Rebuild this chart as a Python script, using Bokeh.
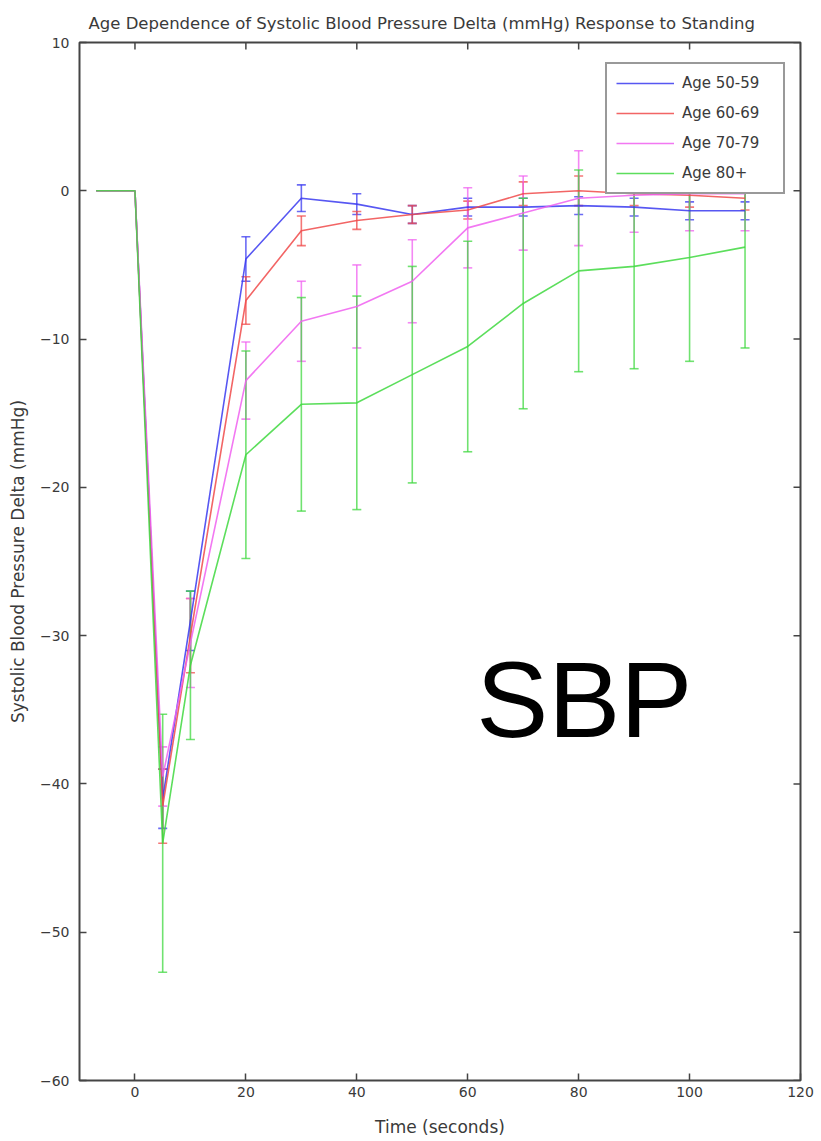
import numpy as np
from bokeh.plotting import figure
from bokeh.models import (ColumnDataSource, Whisker, TeeHead, Label,
                          Legend, LegendItem, FixedTicker, Range1d)
from bokeh.embed import file_html
from bokeh.resources import INLINE

# ---- data ----
time_s = [-7, 0, 5, 10, 20, 30, 40, 50, 60, 70, 80, 90, 100, 110]

series_names = ["Age 50-59", "Age 60-69", "Age 70-79", "Age 80+"]

age_50_59 = [0, 0, -41.0, -29.0, -4.6, -0.5, -0.9, -1.6, -1.1, -1.1, -1.0, -1.1, -1.35, -1.35]
age_60_69 = [0, 0, -41.5, -30.0, -7.4, -2.7, -2.0, -1.6, -1.3, -0.2, 0.0, -0.2, -0.3, -0.5]
age_70_79 = [0, 0, -39.5, -30.5, -12.8, -8.8, -7.8, -6.1, -2.5, -1.5, -0.5, -0.3, -0.2, -0.2]
age_80_up = [0, 0, -44.0, -32.0, -17.8, -14.4, -14.3, -12.4, -10.5, -7.6, -5.4, -5.1, -4.5, -3.8]

err_50_59 = [0, 0, 2.0, 2.0, 1.5, 0.9, 0.7, 0.6, 0.6, 0.6, 0.6, 0.6, 0.6, 0.6]
err_60_69 = [0, 0, 2.5, 2.5, 1.6, 1.0, 0.6, 0.6, 0.6, 0.8, 1.0, 0.8, 0.8, 0.8]
err_70_79 = [0, 0, 2.0, 3.0, 2.6, 2.7, 2.8, 2.8, 2.7, 2.5, 3.2, 2.5, 2.5, 2.5]
err_80_up = [0, 0, 8.7, 5.0, 7.0, 7.2, 7.2, 7.3, 7.1, 7.1, 6.8, 6.9, 7.0, 6.8]

x_ticks = [0, 20, 40, 60, 80, 100, 120]
y_ticks = [-60, -50, -40, -30, -20, -10, 0, 10]

title_text = "Age Dependence of Systolic Blood Pressure Delta (mmHg) Response to Standing"
x_label = "Time (seconds)"
y_label = "Systolic Blood Pressure Delta (mmHg)"
annotation_text = "SBP"

colors = ["#3a3af0", "#f04a4a", "#f060f0", "#40d840"]

FONT = "DejaVu Sans"
TXT = "#3a3a3a"
X_MIN, X_MAX, Y_MIN, Y_MAX = -10, 120, -60, 10
FRAME_H = 1038

p = figure(width=821, height=1141, output_backend="svg", toolbar_location=None,
           x_range=Range1d(X_MIN, X_MAX), y_range=Range1d(Y_MIN, Y_MAX),
           min_border_left=79, min_border_right=21, min_border_top=42,
           min_border_bottom=61)

p.background_fill_color = "white"
p.border_fill_color = "white"
p.grid.visible = False
p.outline_line_color = "#444444"
p.outline_line_width = 2

# title
p.title.text = title_text
p.title.text_font = FONT
p.title.text_font_size = "16.5px"
p.title.text_font_style = "normal"
p.title.text_color = TXT
p.title.align = "left"
p.title.offset = 9
p.title.standoff = 20

# main axes
for ax in (p.xaxis[0], p.yaxis[0]):
    ax.major_tick_in = 7
    ax.major_tick_out = 0
    ax.minor_tick_line_color = None
    ax.major_tick_line_color = "#444444"
    ax.major_tick_line_width = 1.5
    ax.axis_line_color = None
    ax.major_label_text_font = FONT
    ax.major_label_text_font_size = "14px"
    ax.major_label_text_color = TXT
    ax.axis_label_text_font = FONT
    ax.axis_label_text_font_size = "17px"
    ax.axis_label_text_font_style = "normal"
    ax.axis_label_text_color = TXT

p.xaxis[0].ticker = FixedTicker(ticks=x_ticks)
p.yaxis[0].ticker = FixedTicker(ticks=y_ticks)
p.xaxis[0].axis_label = x_label
p.yaxis[0].axis_label = y_label
p.xaxis[0].major_label_standoff = 6
p.yaxis[0].major_label_standoff = 10
p.yaxis[0].axis_label_standoff = 9
p.xaxis[0].axis_label_standoff = 17

# mirrored inward ticks on the top and right edges (box on)
tick_len_y = 7 * (Y_MAX - Y_MIN) / FRAME_H
tick_len_x = 7 * (X_MAX - X_MIN) / 721.0
p.segment(x0=x_ticks, y0=[Y_MAX] * len(x_ticks), x1=x_ticks,
          y1=[Y_MAX - tick_len_y] * len(x_ticks), line_color="#444444", line_width=1.5)
p.segment(x0=[X_MAX] * len(y_ticks), y0=y_ticks, x1=[X_MAX - tick_len_x] * len(y_ticks),
          y1=y_ticks, line_color="#444444", line_width=1.5)

all_vals = [age_50_59, age_60_69, age_70_79, age_80_up]
all_errs = [err_50_59, err_60_69, err_70_79, err_80_up]

legend_items = []
for name, vals, errs, col in zip(series_names, all_vals, all_errs, colors):
    t = np.array(time_s, dtype=float)
    v = np.array(vals, dtype=float)
    e = np.array(errs, dtype=float)
    r = p.line(t, v, line_color=col, line_width=1.6, line_alpha=0.85)
    m = e > 0
    src = ColumnDataSource(dict(t=t[m], up=(v + e)[m], lo=(v - e)[m]))
    w = Whisker(base="t", upper="up", lower="lo", source=src, dimension="height",
                line_color=col, line_width=1.6, line_alpha=0.75,
                upper_head=TeeHead(size=9, line_color=col, line_width=1.6, line_alpha=0.75),
                lower_head=TeeHead(size=9, line_color=col, line_width=1.6, line_alpha=0.75))
    p.add_layout(w)
    legend_items.append(LegendItem(label=name, renderers=[r]))

legend = Legend(items=legend_items, location=(526, 886), margin=0,
                padding=9, spacing=10, glyph_width=58, glyph_height=20,
                label_height=20, label_standoff=8, label_width=92,
                label_text_font=FONT, label_text_font_size="15px",
                label_text_color=TXT, border_line_color="#333333",
                border_line_width=2, background_fill_color="white",
                background_fill_alpha=1.0)
p.add_layout(legend, "center")

sbp = Label(x=81, y=-34.3, text=annotation_text, text_align="center",
            text_baseline="alphabetic", text_font="Liberation Sans",
            text_font_size="108px", text_color="black")
p.add_layout(sbp)

open("out.html", "w").write(file_html(p, INLINE))
